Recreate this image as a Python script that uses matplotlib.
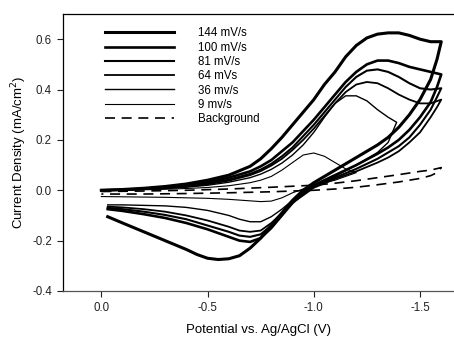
import matplotlib
matplotlib.use("Agg")
import matplotlib.pyplot as plt

plt.rcParams['font.family'] = ['Liberation Sans', 'DejaVu Sans']

# common potential grid for the forward sweeps that go to -1.6 V
E_fwd = [0, -0.1, -0.2, -0.3, -0.4, -0.5, -0.6, -0.7, -0.75, -0.8, -0.85, -0.9, -0.95,
         -1.0, -1.05, -1.1, -1.15, -1.2, -1.25, -1.3, -1.35, -1.4, -1.45, -1.5, -1.55, -1.6]
E_rev = [-1.6, -1.58, -1.55, -1.5, -1.45, -1.4, -1.35, -1.3, -1.2, -1.1, -1.0, -0.95, -0.9,
         -0.85, -0.8, -0.75, -0.7, -0.65, -0.6, -0.5, -0.4, -0.3, -0.2, -0.1, -0.03]

# 144 mV/s
i144_fwd = [0.0, 0.003, 0.008, 0.015, 0.025, 0.04, 0.06, 0.095, 0.125, 0.165, 0.21, 0.26, 0.31,
            0.36, 0.42, 0.47, 0.53, 0.575, 0.605, 0.62, 0.625, 0.625, 0.615, 0.60, 0.59, 0.59]
E144_rev = [-1.6, -1.58, -1.55, -1.5, -1.45, -1.4, -1.35, -1.3, -1.2, -1.1, -1.0, -0.95, -0.9,
            -0.85, -0.8, -0.75, -0.7, -0.65, -0.6, -0.55, -0.5, -0.45, -0.4, -0.3, -0.2, -0.1, -0.03]
i144_rev = [0.59, 0.52, 0.44, 0.36, 0.30, 0.25, 0.21, 0.18, 0.13, 0.08, 0.03, 0.0, -0.04,
            -0.09, -0.14, -0.19, -0.23, -0.26, -0.272, -0.275, -0.27, -0.255, -0.235, -0.20, -0.165, -0.13, -0.105]

# 100 mV/s
i100_fwd = [0.0, 0.002, 0.006, 0.012, 0.02, 0.032, 0.05, 0.075, 0.095, 0.12, 0.155, 0.19, 0.235,
            0.28, 0.33, 0.38, 0.43, 0.47, 0.50, 0.515, 0.515, 0.505, 0.49, 0.48, 0.47, 0.46]
i100_rev = [0.46, 0.41, 0.35, 0.29, 0.24, 0.20, 0.17, 0.145, 0.10, 0.06, 0.02, -0.01, -0.05,
            -0.10, -0.15, -0.19, -0.205, -0.2, -0.185, -0.155, -0.13, -0.11, -0.095, -0.082, -0.075]

# 81 mV/s
i81_fwd = [0.0, 0.002, 0.005, 0.01, 0.017, 0.027, 0.042, 0.065, 0.082, 0.105, 0.135, 0.17, 0.215,
           0.26, 0.31, 0.36, 0.41, 0.45, 0.475, 0.48, 0.47, 0.45, 0.425, 0.405, 0.40, 0.405]
i81_rev = [0.405, 0.37, 0.32, 0.26, 0.21, 0.175, 0.15, 0.125, 0.085, 0.05, 0.015, -0.015, -0.05,
           -0.095, -0.14, -0.175, -0.185, -0.18, -0.165, -0.14, -0.115, -0.098, -0.085, -0.075, -0.07]

# 64 mV/s
i64_fwd = [0.0, 0.002, 0.005, 0.009, 0.015, 0.024, 0.038, 0.06, 0.076, 0.098, 0.125, 0.16, 0.2,
           0.245, 0.295, 0.345, 0.39, 0.42, 0.43, 0.425, 0.405, 0.38, 0.36, 0.345, 0.345, 0.36]
i64_rev = [0.36, 0.33, 0.29, 0.23, 0.19, 0.155, 0.13, 0.11, 0.075, 0.045, 0.01, -0.02, -0.05,
           -0.09, -0.13, -0.16, -0.165, -0.16, -0.145, -0.12, -0.1, -0.085, -0.075, -0.068, -0.065]

# 36 mV/s
E36_fwd = [0, -0.1, -0.2, -0.3, -0.4, -0.5, -0.6, -0.7, -0.75, -0.8, -0.85, -0.9, -0.95,
           -1.0, -1.05, -1.1, -1.15, -1.2, -1.25, -1.3, -1.35, -1.39]
i36_fwd = [0.0, 0.002, 0.004, 0.007, 0.012, 0.02, 0.032, 0.05, 0.064, 0.083, 0.108, 0.14, 0.18,
           0.23, 0.29, 0.345, 0.375, 0.375, 0.355, 0.32, 0.29, 0.27]
E36_rev = [-1.39, -1.37, -1.35, -1.3, -1.2, -1.1, -1.0, -0.95, -0.9, -0.85, -0.8, -0.75, -0.7,
           -0.65, -0.6, -0.5, -0.4, -0.3, -0.2, -0.1, -0.03]
i36_rev = [0.27, 0.23, 0.19, 0.15, 0.10, 0.055, 0.015, -0.01, -0.04, -0.075, -0.105, -0.125, -0.125,
           -0.115, -0.10, -0.08, -0.068, -0.062, -0.06, -0.058, -0.058]

# 9 mV/s
E9_fwd = [0, -0.1, -0.2, -0.3, -0.4, -0.5, -0.6, -0.7, -0.75, -0.8, -0.85, -0.9, -0.95,
          -1.0, -1.05, -1.1, -1.15, -1.2]
i9_fwd = [0.0, 0.001, 0.002, 0.004, 0.007, 0.011, 0.018, 0.03, 0.04, 0.055, 0.08, 0.11, 0.14,
          0.148, 0.135, 0.11, 0.085, 0.07]
E9_rev = [-1.2, -1.15, -1.1, -1.0, -0.95, -0.9, -0.85, -0.8, -0.75, -0.7, -0.6, -0.5, -0.4,
          -0.3, -0.2, -0.1, 0.0]
i9_rev = [0.07, 0.055, 0.04, 0.02, 0.005, -0.01, -0.03, -0.043, -0.045, -0.042, -0.036, -0.032, -0.03,
          -0.028, -0.027, -0.026, -0.025]

# background
E_bg = [0, -0.2, -0.4, -0.6, -0.8, -1.0, -1.1, -1.2, -1.3, -1.4, -1.5, -1.55, -1.6,
        -1.58, -1.55, -1.5, -1.4, -1.3, -1.2, -1.1, -1.0, -0.8, -0.6, -0.4, -0.2, 0.0]
i_bg = [-0.005, -0.003, 0.0, 0.005, 0.012, 0.02, 0.028, 0.038, 0.05, 0.062, 0.075, 0.08, 0.09,
        0.07, 0.058, 0.047, 0.033, 0.022, 0.012, 0.005, 0.0, -0.006, -0.01, -0.013, -0.015, -0.015]

fig = plt.figure(figsize=(4.54, 3.37), dpi=100)
ax = fig.add_axes([0.139, 0.1365, 0.861, 0.822])

curves = [
    ('144 mV/s', E_fwd + E144_rev, i144_fwd + i144_rev, 2.2),
    ('100 mV/s', E_fwd + E_rev, i100_fwd + i100_rev, 1.9),
    ('81 mV/s', E_fwd + E_rev, i81_fwd + i81_rev, 1.5),
    ('64 mVs', E_fwd + E_rev, i64_fwd + i64_rev, 1.3),
    ('36 mv/s', E36_fwd + E36_rev, i36_fwd + i36_rev, 1.0),
    ('9 mv/s', E9_fwd + E9_rev, i9_fwd + i9_rev, 0.8),
]
for lab, e, i, lw in curves:
    ax.plot(e, i, color='black', lw=lw, label=lab, solid_joinstyle='round')
ax.plot(E_bg, i_bg, color='black', lw=1.2, ls=(0, (6, 4)), label='Background')

ax.set_xlim(0.18, -1.66)
ax.set_ylim(-0.4, 0.7)
ax.set_xticks([0.0, -0.5, -1.0, -1.5])
ax.set_yticks([-0.4, -0.2, 0.0, 0.2, 0.4, 0.6])
ax.xaxis.set_major_formatter(matplotlib.ticker.FormatStrFormatter('%.1f'))
ax.yaxis.set_major_formatter(matplotlib.ticker.FormatStrFormatter('%.1f'))
ax.tick_params(direction='out', length=4, width=0.8, labelsize=8.3, colors='#222222', pad=4)
ax.spines['right'].set_visible(False)
for s in ['left', 'bottom', 'top']:
    ax.spines[s].set_linewidth(0.9)
ax.spines['bottom'].set_color('#555555')

ax.set_xlabel('Potential vs. Ag/AgCl (V)', fontsize=9.5, labelpad=7)
ax.set_ylabel('Current Density (mA/cm$^2$)', fontsize=9.5, labelpad=2)

ax.legend(loc='upper left', bbox_to_anchor=(0.108, 0.952), frameon=False, fontsize=8.3,
          handlelength=6.0, handletextpad=2.0, labelspacing=0.2, borderpad=0, borderaxespad=0)

fig.savefig('out.png', dpi=100)
